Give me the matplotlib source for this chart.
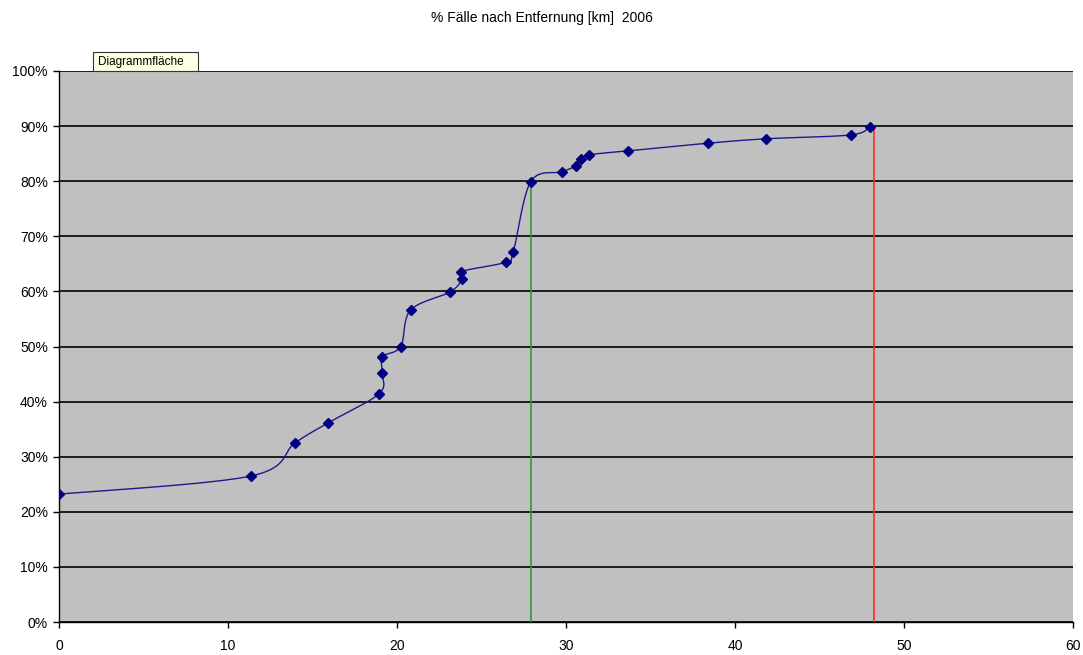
import numpy as np
import matplotlib
matplotlib.use("Agg")
import matplotlib.pyplot as plt
from matplotlib.patches import Rectangle
from matplotlib.ticker import FuncFormatter, MultipleLocator

# Distance [km] and cumulative share of cases [%]
distance_km = [0.0, 11.36, 13.96, 15.9, 18.93, 19.13, 19.13, 20.22, 20.8, 23.14,
               23.83, 23.79, 26.43, 26.88, 27.91, 29.74, 30.59, 30.89, 31.38,
               33.67, 38.42, 41.83, 46.84, 47.99]
share_pct = [23.2, 26.5, 32.5, 36.1, 41.4, 45.1, 48.1, 50.0, 56.6, 59.9,
             62.2, 63.6, 65.3, 67.2, 79.9, 81.7, 82.8, 84.0, 84.8,
             85.5, 86.9, 87.7, 88.4, 89.9]

# Reference markers (distance at 80 % and 90 %)
mark80_km, mark80_pct = 27.93, 80.0
mark90_km, mark90_pct = 48.2, 90.0

title = "% Fälle nach Entfernung [km]  2006"
tooltip = "Diagrammfläche"


def smooth_curve(x, y, n=30):
    """Cubic Bezier smoothing through all points (Catmull-Rom style)."""
    x = np.asarray(x, float)
    y = np.asarray(y, float)
    px, py = [], []
    for i in range(len(x) - 1):
        x0, y0 = (x[i - 1], y[i - 1]) if i > 0 else (x[i], y[i])
        x3, y3 = (x[i + 2], y[i + 2]) if i + 2 < len(x) else (x[i + 1], y[i + 1])
        x1, y1 = x[i], y[i]
        x2, y2 = x[i + 1], y[i + 1]
        c1x = x1 + (x2 - x0) / 6.0
        c1y = y1 + (y2 - y0) / 6.0
        c2x = x2 - (x3 - x1) / 6.0
        c2y = y2 - (y3 - y1) / 6.0
        t = np.linspace(0, 1, n)
        bx = (1 - t) ** 3 * x1 + 3 * (1 - t) ** 2 * t * c1x + 3 * (1 - t) * t ** 2 * c2x + t ** 3 * x2
        by = (1 - t) ** 3 * y1 + 3 * (1 - t) ** 2 * t * c1y + 3 * (1 - t) * t ** 2 * c2y + t ** 3 * y2
        px.extend(bx)
        py.extend(by)
    return np.array(px), np.array(py)


plt.rcParams['font.family'] = ['Liberation Sans', 'DejaVu Sans']

fig = plt.figure(figsize=(10.83, 6.55), dpi=100)
W, H = 1083, 655
left, right, top, bottom = 59, 1073, 71, 622
ax = fig.add_axes([left / W, 1 - bottom / H, (right - left) / W, (bottom - top) / H])
ax.set_facecolor("#C0C0C0")

ax.set_xlim(0, 60)
ax.set_ylim(0, 100)
ax.yaxis.set_major_locator(MultipleLocator(10))
ax.xaxis.set_major_locator(MultipleLocator(10))
ax.yaxis.set_major_formatter(FuncFormatter(lambda v, p: f"{int(round(v))}%"))
ax.grid(axis="y", color="black", linewidth=1.2)
ax.set_axisbelow(True)

for s in ("top", "right"):
    ax.spines[s].set_visible(False)
for s in ("left", "bottom"):
    ax.spines[s].set_color("black")
    ax.spines[s].set_linewidth(1.0)
ax.tick_params(axis="both", direction="out", length=4, width=1, labelsize=10,
               colors="black")
ax.tick_params(axis="x", pad=8)
ax.tick_params(axis="y", pad=4)

# Vertical reference lines
ax.plot([mark80_km, mark80_km], [0, mark80_pct], color="#339933", linewidth=1.2, zorder=3)
ax.plot([mark90_km, mark90_km], [0, mark90_pct], color="#FF2A2A", linewidth=1.2, zorder=3)

# Smoothed curve with diamond markers
sx, sy = smooth_curve(distance_km, share_pct)
ax.plot(sx, sy, color="#1A1A8C", linewidth=1.0, zorder=4)
ax.plot(distance_km, share_pct, linestyle="none", marker="D", markersize=5.5,
        color="#000080", zorder=5)

fig.text(0.5, 1 - 18 / H, title, ha="center", va="center", fontsize=10)

# Chart-area tooltip box
fig.patches.append(Rectangle((93 / W, 1 - 71 / H), 105 / W, 19 / H,
                             transform=fig.transFigure, facecolor="#FFFFE1",
                             edgecolor="#333333", linewidth=0.8, zorder=10))
fig.text(98 / W, 1 - 61.5 / H, tooltip, ha="left", va="center", fontsize=8.5,
         zorder=11)

fig.savefig("out.png", dpi=100, facecolor="white")
